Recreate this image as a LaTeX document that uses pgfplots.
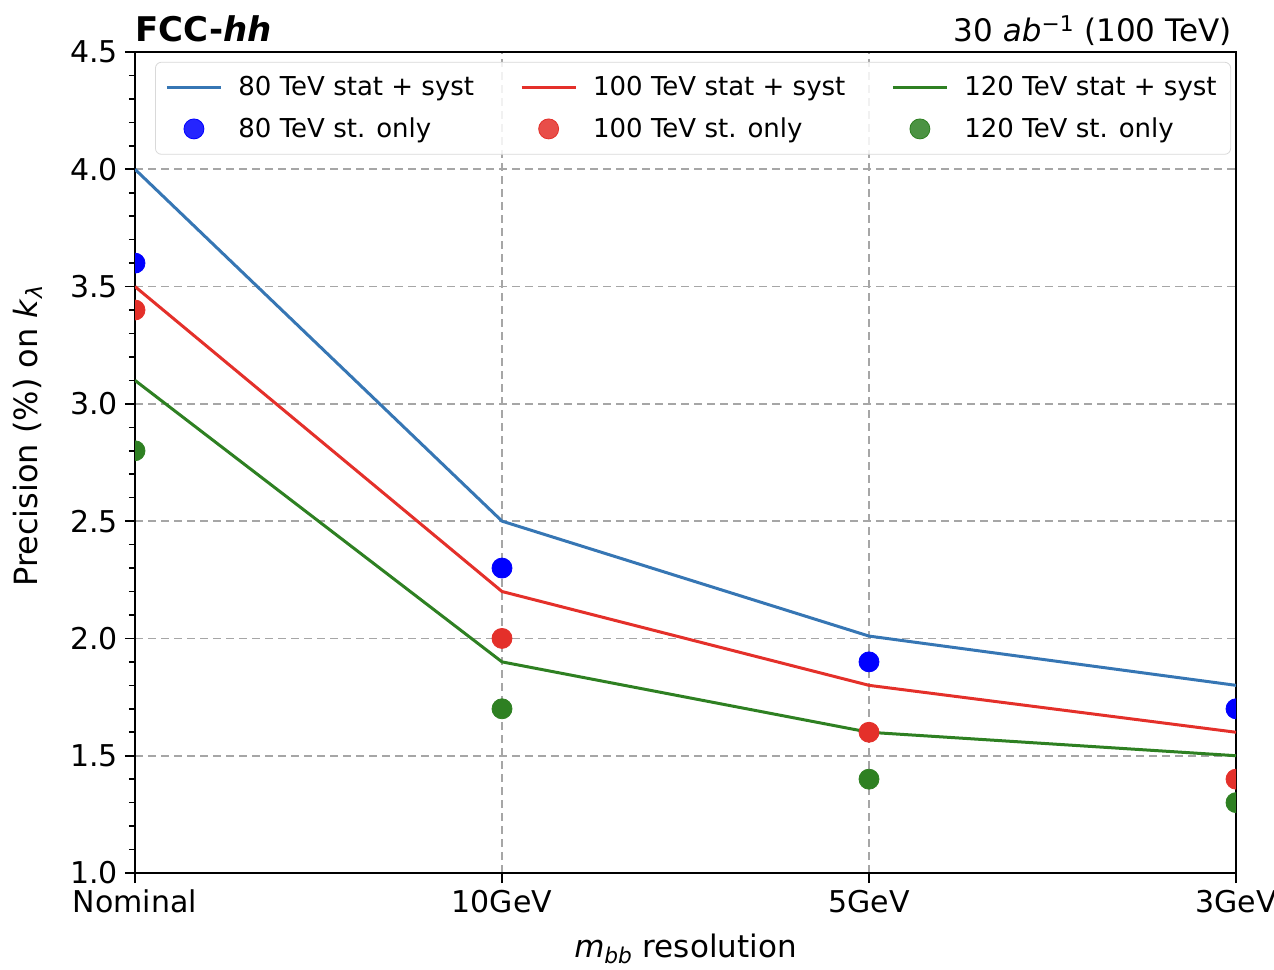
\documentclass[border=0pt]{standalone}
\usepackage{fontspec}
\setmainfont{DejaVu Sans}
\usepackage{pgfplots}
\pgfplotsset{compat=1.18}
\definecolor{lblue}{HTML}{3676B4}
\definecolor{lred}{HTML}{E4302A}
\definecolor{lgreen}{HTML}{2E8022}
\definecolor{mblue}{HTML}{0000FF}
\begin{document}
\begin{tikzpicture}
\begin{axis}[
  scale only axis, width=550.5pt, height=410.5pt,
  font=\fontsize{15pt}{18pt}\selectfont,
  xmin=0, xmax=3, ymin=1, ymax=4.5,
  xtick={0,1,2,3}, xticklabels={Nominal,10GeV,5GeV,3GeV},
  ytick={1,1.5,2,2.5,3,3.5,4,4.5},
  minor y tick num=4,
  yticklabel style={/pgf/number format/.cd, fixed, fixed zerofill, precision=1},
  /pgf/number format/assume math mode=true,
  tick align=outside, tick pos=left,
  major tick length=5pt, minor tick length=3pt,
  every tick/.style={black, line width=0.8pt},
  axis line style={line width=0.9pt},
  grid=major, major grid style={gray!70, dashed, line width=0.8pt, dash pattern=on 4pt off 2.5pt},
  clip mode=individual, clip marker paths=true,
  legend columns=3,
  legend cell align=left,
  legend image code/.code={\draw[mark repeat=2,mark phase=2,#1] plot coordinates {(0pt,0pt) (13.5pt,0pt) (27pt,0pt)};},
  legend style={at={(axis description cs:0.0182,0.988)}, anchor=north west,
    draw=gray!30, rounded corners=3pt, fill=white, fill opacity=0.85, text opacity=1,
    font=\fontsize{13pt}{17pt}\selectfont,
    inner xsep=5pt, inner ysep=5pt, row sep=5.5pt,
    /tikz/every odd column/.append style={column sep=6pt},
    /tikz/every even column/.append style={column sep=21pt}},
]
\addplot[lblue, line width=1.5pt] coordinates {(0,4.0) (1,2.5) (2,2.01) (3,1.8)};
\addlegendentry{80 TeV stat + syst}
\addplot[lred, line width=1.5pt] coordinates {(0,3.5) (1,2.2) (2,1.8) (3,1.6)};
\addlegendentry{100 TeV stat + syst}
\addplot[lgreen, line width=1.5pt] coordinates {(0,3.1) (1,1.9) (2,1.6) (3,1.5)};
\addlegendentry{120 TeV stat + syst}
\addplot[only marks, mark=*, mark size=5pt, mark options={draw=mblue, fill=mblue}] coordinates {(0,3.6) (1,2.3) (2,1.9) (3,1.7)};
\addlegendentry{80 TeV st. only}
\addplot[only marks, mark=*, mark size=5pt, mark options={draw=lred, fill=lred}] coordinates {(0,3.4) (1,2.0) (2,1.6) (3,1.4)};
\addlegendentry{100 TeV st. only}
\addplot[only marks, mark=*, mark size=5pt, mark options={draw=lgreen, fill=lgreen}] coordinates {(0,2.8) (1,1.7) (2,1.4) (3,1.3)};
\addlegendentry{120 TeV st. only}
\node[anchor=base west, inner sep=0pt, font=\fontsize{17pt}{20pt}\selectfont\bfseries] at ([yshift=5pt]axis description cs:0,1) {FCC-\textit{hh}};
\node[anchor=base east, inner sep=0pt, font=\fontsize{15.5pt}{18pt}\selectfont] at ([yshift=5pt, xshift=-2pt]axis description cs:1,1) {30 \textit{ab}\textsuperscript{−1} (100 TeV)};
\node[rotate=90, anchor=center, inner sep=0pt, font=\fontsize{16pt}{19pt}\selectfont] at ([xshift=-53.5pt]axis description cs:0,0.533) {Precision (\%) on \textit{k}\textsubscript{\textit{λ}}};
\node[anchor=base, inner sep=0pt, font=\fontsize{15.5pt}{18pt}\selectfont] at ([yshift=-42pt]axis description cs:0.5,0) {\textit{m}\textsubscript{\textit{bb}} resolution};
\end{axis}
\pgfresetboundingbox
\path (current axis.south west) ++(-67.5pt,-48pt) rectangle ++(637pt,484.5pt);
\end{tikzpicture}
\end{document}
